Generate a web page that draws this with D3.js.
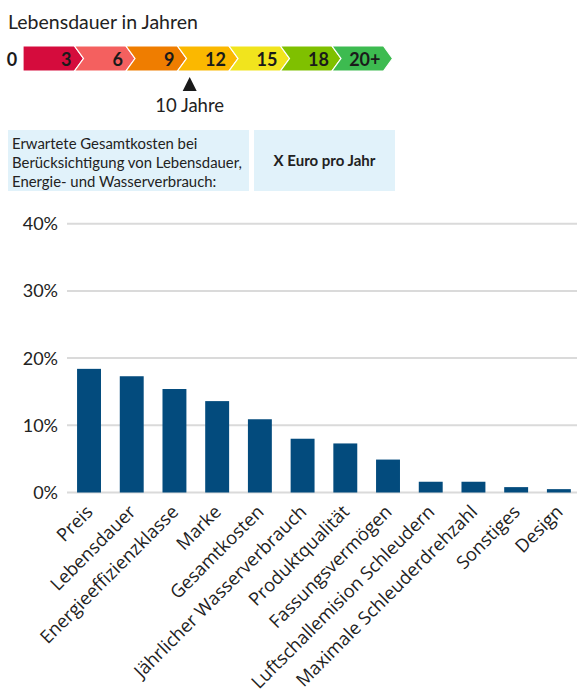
<!DOCTYPE html>
<html>
<head>
<meta charset="utf-8">
<script src="https://cdn.jsdelivr.net/npm/d3@7"></script>
<style>
  html, body { margin: 0; padding: 0; background: #fff; }
  svg { display: block; font-family: Lato, "Noto Sans", sans-serif; }
</style>
</head>
<body>
<svg id="chart" width="577" height="693"></svg>
<script>
// Lifetime scale (years) shown above the chart
const lifeLabels = ["3", "6", "9", "12", "15", "18", "20+"];
const lifeColors = ["#d50c3d", "#f4605f", "#ef7d00", "#fbb800", "#f1e41d", "#7fc000", "#3dbb50"];
const lifeMarker = 10;

// Info box texts
const infoLines = ["Erwartete Gesamtkosten bei", "Berücksichtigung von Lebensdauer,", "Energie- und Wasserverbrauch:"];
const infoValue = "X Euro pro Jahr";

// Bar chart data (share of respondents, %)
const categories = ["Preis", "Lebensdauer", "Energieeffizienzklasse", "Marke", "Gesamtkosten",
  "Jährlicher Wasserverbrauch", "Produktqualität", "Fassungsvermögen", "Luftschallemision Schleudern",
  "Maximale Schleuderdrehzahl", "Sonstiges", "Design"];
const values = [18.4, 17.3, 15.4, 13.6, 10.9, 8.0, 7.3, 4.9, 1.6, 1.6, 0.8, 0.5];
const yTicks = [0, 10, 20, 30, 40];

const svg = d3.select("#chart");
const ink = "#222";

// ---- Title
svg.append("text").attr("x", 8).attr("y", 29)
  .attr("font-size", 19.5).attr("fill", ink).text("Lebensdauer in Jahren");

// ---- Lifetime arrow band
const segW = 51.5, segX0 = 23, arrowD = 9, bandTop = 46, bandBot = 71, bandMid = (bandTop + bandBot) / 2;
const band = svg.append("g");
lifeLabels.forEach((lab, i) => {
  const x0 = segX0 + i * segW, x1 = x0 + segW;
  const pts = [[x0, bandTop], [x1, bandTop], [x1 + arrowD, bandMid], [x1, bandBot], [x0, bandBot]];
  if (i > 0) pts.push([x0 + arrowD, bandMid]);
  band.append("polygon")
    .attr("points", pts.map(p => p.join(",")).join(" "))
    .attr("fill", lifeColors[i])
    .attr("stroke", "#fff").attr("stroke-width", 1.2).attr("stroke-linejoin", "miter");
  band.append("text").attr("x", x1 - 3).attr("y", 66)
    .attr("text-anchor", "end").attr("font-size", 18).attr("font-weight", 700)
    .attr("fill", "#1a1a1a").text(lab);
});
svg.append("text").attr("x", 12).attr("y", 66).attr("text-anchor", "middle")
  .attr("font-size", 18).attr("font-weight", 700).attr("fill", "#1a1a1a").text("0");

// year -> x position along the band
const yearX = d3.scaleLinear().domain([0, 21]).range([18, 18 + 7 * segW]);
const mx = yearX(lifeMarker);
svg.append("path")
  .attr("d", `M${mx},77 L${mx + 7},91 L${mx - 7},91 Z`).attr("fill", "#1a1a1a");
svg.append("text").attr("x", mx).attr("y", 112).attr("text-anchor", "middle")
  .attr("font-size", 18.5).attr("fill", ink).text(`${lifeMarker} Jahre`);

// ---- Info boxes
svg.append("rect").attr("x", 8).attr("y", 130).attr("width", 241).attr("height", 61).attr("fill", "#e1f2fa");
svg.append("rect").attr("x", 254).attr("y", 130).attr("width", 141).attr("height", 61).attr("fill", "#e1f2fa");
infoLines.forEach((t, i) => {
  svg.append("text").attr("x", 12).attr("y", 149 + i * 19)
    .attr("font-size", 14.9).attr("fill", ink).text(t);
});
svg.append("text").attr("x", 324.5).attr("y", 166).attr("text-anchor", "middle")
  .attr("font-size", 15).attr("font-weight", 700).attr("fill", ink).text(infoValue);

// ---- Bar chart
const x = d3.scaleBand().domain(categories).range([67, 577])
  .paddingInner(0.44).paddingOuter(0.19).align(0.62);
const y = d3.scaleLinear().domain([0, 40]).range([492.5, 223.7]);

const grid = svg.append("g");
grid.selectAll("line").data(yTicks).join("line")
  .attr("x1", 67).attr("x2", 577)
  .attr("y1", d => y(d)).attr("y2", d => y(d))
  .attr("stroke", "#dadada").attr("stroke-width", 2);
grid.selectAll("text").data(yTicks).join("text")
  .attr("x", 58).attr("y", d => y(d)).attr("dy", "0.36em")
  .attr("text-anchor", "end").attr("font-size", 18).attr("fill", ink)
  .text(d => d + "%");

svg.append("g").selectAll("rect").data(categories).join("rect")
  .attr("x", d => x(d)).attr("width", x.bandwidth())
  .attr("y", (d, i) => y(values[i]))
  .attr("height", (d, i) => y(0) - y(values[i]))
  .attr("fill", "#034b7d");

svg.append("g").selectAll("text").data(categories).join("text")
  .attr("transform", d => `translate(${x(d) + x.bandwidth() / 2 + 5},${513}) rotate(-45)`)
  .attr("text-anchor", "end").attr("font-size", 18.3)
  .attr("font-family", "'Open Sans', Lato, sans-serif").attr("fill", ink)
  .text(d => d);
</script>
</body>
</html>
